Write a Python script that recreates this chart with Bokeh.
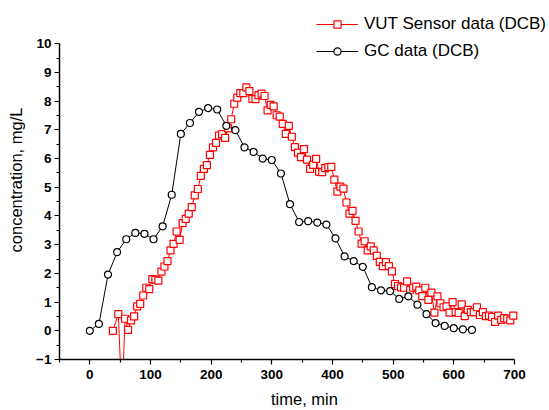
from bokeh.plotting import figure
from bokeh.models import Range1d, FixedTicker, Legend, LegendItem
from bokeh.embed import file_html
from bokeh.resources import INLINE

# GC data (DCB)
gc_time = [0, 15, 30, 45, 60, 75, 90, 105, 120, 135, 150, 165, 180, 195, 210,
           225, 240, 255, 270, 285, 300, 315, 330, 345, 360, 375, 390, 405, 420,
           435, 450, 465, 480, 495, 510, 525, 540, 555, 570, 585, 600, 615, 630]
gc_conc = [0.0, 0.24, 1.96, 2.74, 3.19, 3.41, 3.38, 3.19, 3.64, 4.74, 6.86, 7.24,
           7.63, 7.76, 7.71, 7.14, 6.99, 6.39, 6.23, 6.00, 5.95, 5.48, 4.41, 3.79,
           3.82, 3.77, 3.70, 3.22, 2.59, 2.43, 2.23, 1.52, 1.41, 1.38, 1.11, 1.20,
           0.91, 0.58, 0.27, 0.17, 0.09, 0.05, 0.03]

# VUT Sensor data (DCB)
vut_time = [38, 47, 53, 58, 63, 68, 73, 78, 83, 88, 93, 98, 103, 108, 113, 118,
            123, 128, 133, 138, 143, 148, 153, 158, 163, 168, 173, 178, 183, 188,
            193, 198, 203, 208, 213, 218, 223, 228, 233, 238, 243, 248, 253, 258,
            263, 268, 273, 278, 283, 288, 293, 298, 303, 308, 313, 318, 323, 328,
            333, 338, 343, 348, 353, 358, 363, 368, 373, 378, 383, 388, 393, 398,
            403, 408, 413, 418, 423, 428, 433, 438, 443, 448, 453, 458, 463, 468,
            473, 478, 483, 488, 493, 498, 503, 508, 513, 518, 523, 528, 533, 538,
            543, 548, 553, 558, 563, 568, 573, 578, 583, 588, 593, 598, 603, 608,
            613, 618, 623, 628, 633, 638, 643, 648, 653, 658, 663, 668, 673, 678,
            683, 688, 693, 698]
vut_conc = [0.0, 0.58, -2.5, 0.42, 0.03, 0.36, 0.50, 0.85, 0.94, 1.23, 1.50, 1.45,
            1.80, 1.78, 1.75, 2.06, 2.24, 2.43, 2.80, 3.03, 3.46, 3.17, 3.75, 3.90,
            4.08, 4.31, 4.72, 4.94, 5.40, 5.64, 5.77, 6.13, 6.39, 6.55, 6.80, 6.85,
            6.72, 7.05, 7.37, 7.91, 8.12, 8.28, 8.28, 8.48, 8.35, 8.08, 8.07, 8.21,
            8.26, 8.18, 7.68, 7.87, 7.82, 7.51, 7.46, 7.21, 6.86, 7.14, 6.76, 6.40,
            6.21, 6.05, 6.33, 5.96, 5.64, 5.78, 5.99, 5.54, 5.53, 5.67, 5.70, 5.71,
            5.27, 4.85, 5.02, 4.95, 4.47, 4.08, 4.18, 3.83, 3.46, 3.04, 3.12, 2.80,
            2.94, 2.80, 2.61, 2.40, 2.25, 2.39, 2.25, 2.07, 1.63, 1.56, 1.51, 1.50,
            1.72, 1.43, 1.50, 1.54, 1.41, 1.21, 1.50, 1.08, 1.33, 0.63, 1.20, 0.96,
            0.82, 0.85, 0.63, 1.00, 0.65, 0.62, 0.92, 0.51, 0.73, 0.65, 0.65, 0.82,
            0.55, 0.65, 0.51, 0.53, 0.48, 0.31, 0.53, 0.38, 0.44, 0.42, 0.36, 0.53]

x_major = [0, 100, 200, 300, 400, 500, 600, 700]
x_minor = [-50, 50, 150, 250, 350, 450, 550, 650]
y_major = [-1, 0, 1, 2, 3, 4, 5, 6, 7, 8, 9, 10]
y_minor = [-0.5, 0.5, 1.5, 2.5, 3.5, 4.5, 5.5, 6.5, 7.5, 8.5, 9.5]

# frame spans the whole top/right area; axes are bounded to the data box
p = figure(width=549, height=410, output_backend="svg", toolbar_location=None,
           x_range=Range1d(-50, 757.7), y_range=Range1d(-1, 11.507),
           min_border_left=59, min_border_right=0, min_border_top=0,
           min_border_bottom=51)
p.outline_line_color = None
p.xgrid.visible = False
p.ygrid.visible = False
p.background_fill_color = "white"
p.border_fill_color = "white"

for ax in (p.xaxis[0], p.yaxis[0]):
    ax.axis_line_color = "black"
    ax.axis_line_width = 1.5
    ax.major_tick_line_color = "black"
    ax.minor_tick_line_color = "black"
    ax.major_tick_line_width = 1.2
    ax.minor_tick_line_width = 1.2
    ax.major_tick_out = 5
    ax.major_tick_in = 0
    ax.minor_tick_out = 3
    ax.minor_tick_in = 0
    ax.major_label_text_font = "Liberation Sans"
    ax.major_label_text_font_style = "bold"
    ax.major_label_text_font_size = "13.5px"
    ax.major_label_text_color = "black"
    ax.axis_label_text_font = "Liberation Sans"
    ax.axis_label_text_font_style = "normal"
    ax.axis_label_text_font_size = "16.5px"
    ax.axis_label_text_color = "black"

p.xaxis[0].ticker = FixedTicker(ticks=x_major, minor_ticks=x_minor)
p.yaxis[0].ticker = FixedTicker(ticks=y_major, minor_ticks=y_minor)
p.xaxis[0].bounds = (-50, 700)
p.yaxis[0].bounds = (-1, 10)
p.xaxis[0].axis_label = "time, min"
p.yaxis[0].axis_label = "concentration, mg/L"
p.xaxis[0].major_label_standoff = 5
p.yaxis[0].major_label_standoff = 3
p.xaxis[0].axis_label_standoff = 8
p.yaxis[0].axis_label_standoff = 8

red = "#ff0000"
l_vut = p.line(vut_time, vut_conc, line_color=red, line_width=1)
s_vut = p.scatter(vut_time, vut_conc, marker="square", size=7, line_color=red,
                  fill_color="white", line_width=1.2)
l_gc = p.line(gc_time, gc_conc, line_color="black", line_width=1)
s_gc = p.scatter(gc_time, gc_conc, marker="circle", size=7, line_color="black",
                 fill_color="white", line_width=1.2)

legend = Legend(items=[
    LegendItem(label="VUT Sensor data (DCB)", renderers=[l_vut, s_vut]),
    LegendItem(label="GC data (DCB)", renderers=[l_gc, s_gc]),
], location=(257, 295))
legend.background_fill_alpha = 0
legend.border_line_color = None
legend.padding = 0
legend.margin = 0
legend.spacing = 0
legend.glyph_width = 42
legend.glyph_height = 18
legend.label_height = 27
legend.label_standoff = 6
legend.label_text_font = "Liberation Sans"
legend.label_text_font_size = "17px"
legend.label_text_color = "black"
p.add_layout(legend, "center")

open("out.html", "w").write(file_html(p, INLINE))
